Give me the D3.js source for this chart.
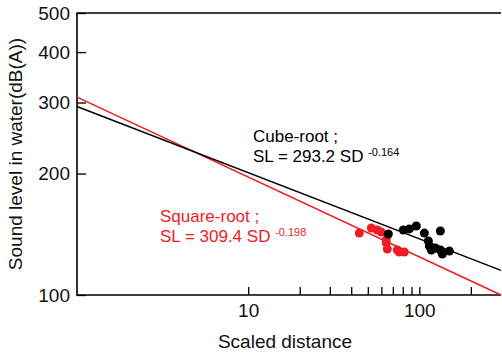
<!DOCTYPE html>
<html>
<head>
<meta charset="utf-8">
<script src="https://cdn.jsdelivr.net/npm/d3@7"></script>
<style>
  body { margin: 0; background: #fff; }
  svg text { font-family: Arial, "Liberation Sans", sans-serif; }
</style>
</head>
<body>
<div id="chart"></div>
<script>
// scaled distance / sound level for each blast
var cubeX = [65.9, 80.6, 87.4, 96.0, 107, 132.7, 112.9, 114.4, 124, 132.7, 136.3, 149.8, 117.5];
var cubeY = [141.6, 144.9, 145.8, 148.3, 142.4, 144.1, 136.1, 132.3, 130.8, 129.3, 126.4, 128.5, 129.3];
var squareX = [44.6, 52.4, 56.8, 59.9, 64.1, 65.0, 76.4, 81.7, 74.3, 64.1];
var squareY = [142.4, 146.6, 144.9, 143.3, 134.6, 130.0, 127.8, 127.8, 129.3, 137.0];

// fitted SL = a * SD^b
var cubeFit = [293.2, -0.164];
var squareFit = [309.4, -0.198];

var xTicks = [10, 20, 30, 40, 50, 60, 70, 80, 90, 100, 200];
var xLabels = [10, 100];
var yTicks = [100, 200, 300, 400, 500];

var width = 502, height = 355;
var margin = { left: 77, right: 1, top: 13, bottom: 60 };
var black = "#000", red = "#ed1c24";

var svg = d3.select("#chart").append("svg")
  .attr("width", width)
  .attr("height", height);

var x = d3.scaleLog().domain([1, 300]).range([margin.left, width - margin.right]);
var y = d3.scaleLog().domain([100, 500]).range([height - margin.bottom, margin.top]);

var x0 = margin.left, x1 = width - margin.right;
var y0 = height - margin.bottom, y1 = margin.top;

// x axis (ticks pointing inward)
var xAxis = svg.append("g").attr("transform", "translate(0," + y0 + ")")
  .call(d3.axisBottom(x).tickValues(xTicks).tickSizeInner(-8).tickSizeOuter(0)
    .tickFormat(function(d) { return xLabels.indexOf(d) >= 0 ? d : ""; }));
xAxis.select(".domain").remove();
xAxis.selectAll("line").attr("stroke", black).attr("stroke-width", 1.3);
xAxis.selectAll("text").attr("font-size", 19).attr("fill", "#111").attr("y", 9).attr("dy", "0.71em");

// y axis
var yAxis = svg.append("g").attr("transform", "translate(" + x0 + ",0)")
  .call(d3.axisLeft(y).tickValues(yTicks).tickSizeInner(-9).tickSizeOuter(0)
    .tickFormat(d3.format("d")));
yAxis.select(".domain").remove();
yAxis.selectAll("line").attr("stroke", black).attr("stroke-width", 1.3);
yAxis.selectAll("text").attr("font-size", 19).attr("fill", "#111").attr("x", -7);

// frame: left, bottom, top
svg.append("path")
  .attr("d", "M" + x1 + "," + y1 + "H" + x0 + "V" + y0 + "H" + x1)
  .attr("fill", "none").attr("stroke", black).attr("stroke-width", 1.6);

// titles
svg.append("text")
  .attr("x", (x0 + x1) / 2 - 4).attr("y", 348)
  .attr("text-anchor", "middle").attr("font-size", 19).attr("fill", "#111")
  .text("Scaled distance");

svg.append("text")
  .attr("transform", "translate(22," + ((y0 + y1) / 2) + ") rotate(-90)")
  .attr("text-anchor", "middle").attr("font-size", 19).attr("fill", "#111")
  .text("Sound level in water(dB(A))");

// regression lines
var plot = svg.append("g");
var domainX = x.domain();
function fitLine(fit, color) {
  var pts = domainX.map(function(d) { return [d, fit[0] * Math.pow(d, fit[1])]; });
  plot.append("path")
    .attr("d", d3.line().x(function(d) { return x(d[0]); }).y(function(d) { return y(d[1]); })(pts))
    .attr("fill", "none").attr("stroke", color).attr("stroke-width", 1.5);
}
fitLine(squareFit, red);
fitLine(cubeFit, black);

// points
function dots(xs, ys, color) {
  plot.append("g").selectAll("circle")
    .data(xs)
    .enter().append("circle")
    .attr("cx", function(d) { return x(d); })
    .attr("cy", function(d, i) { return y(ys[i]); })
    .attr("r", 4.5)
    .attr("fill", color);
}
dots(squareX, squareY, red);
dots(cubeX, cubeY, black);

// equations
function equation(tx, ty, name, coef, expo, color) {
  var g = svg.append("g").attr("fill", color);
  g.append("text").attr("x", tx).attr("y", ty).attr("font-size", 17).text(name);
  var t = g.append("text").attr("x", tx).attr("y", ty + 20).attr("font-size", 17);
  t.append("tspan").text("SL = " + coef + " SD ");
  t.append("tspan").attr("font-size", 11).attr("dy", -6).text(expo);
}
equation(253, 142, "Cube-root ;", "293.2", "-0.164", black);
equation(160, 222, "Square-root ;", "309.4", "-0.198", red);
</script>
</body>
</html>
